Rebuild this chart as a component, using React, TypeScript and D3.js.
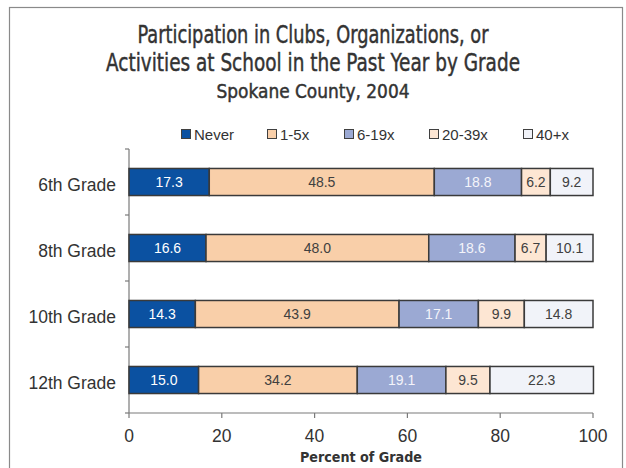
import React, { useRef, useEffect } from "react"
import * as d3 from "d3"

const grades = ["6th Grade", "8th Grade", "10th Grade", "12th Grade"]
const series = ["Never", "1-5x", "6-19x", "20-39x", "40+x"]
const never = [17.3, 16.6, 14.3, 15.0]
const oneToFive = [48.5, 48.0, 43.9, 34.2]
const sixToNineteen = [18.8, 18.6, 17.1, 19.1]
const twentyToThirtyNine = [6.2, 6.7, 9.9, 9.5]
const fortyPlus = [9.2, 10.1, 14.8, 22.3]
const xTicks = [0, 20, 40, 60, 80, 100]

const fills = ["#0b51a1", "#f9cfa9", "#9ba9d3", "#fde6d3", "#f1f3f9"]
const textFills = ["#ffffff", "#404040", "#f4f4fa", "#404040", "#404040"]

export default function App() {
  const svgRef = useRef(null)

  useEffect(() => {
    const svg = d3.select(svgRef.current)
    svg.selectAll("*").remove()

    const values = [never, oneToFive, sixToNineteen, twentyToThirtyNine, fortyPlus]
    const rows = grades.map((g, i) => {
      const r: any = { grade: g }
      series.forEach((s, j) => { r[s] = values[j][i] })
      return r
    })
    const stacked = d3.stack().keys(series)(rows)

    const x = d3.scaleLinear().domain([0, 100]).range([129, 593])
    const y = d3.scaleBand().domain(grades).range([149, 413]).paddingInner(0.59).paddingOuter(0.295)

    // frame
    svg.append("rect").attr("x", 9.5).attr("y", 7.5).attr("width", 613).attr("height", 480)
      .attr("fill", "white").attr("stroke", "#8a8a8a").attr("stroke-width", 1.2)

    const arial = "'Liberation Sans', Arial, sans-serif"
    const narrow = "'DejaVu Sans Condensed', 'Liberation Sans Narrow', 'Liberation Sans', sans-serif"
    const titleLines = [
      { t: "Participation in Clubs, Organizations, or", y: 43, s: 25, w: 351 },
      { t: "Activities at School in the Past Year by Grade", y: 71, s: 25, w: 414 },
      { t: "Spokane County, 2004", y: 98, s: 20, w: 193 },
    ]
    svg.selectAll(".title").data(titleLines).enter().append("text")
      .attr("x", 313).attr("y", d => d.y).attr("text-anchor", "middle")
      .attr("font-family", narrow).attr("font-size", d => d.s).attr("fill", "#333")
      .attr("stroke", "#333").attr("stroke-width", 0.45)
      .attr("textLength", d => d.w).attr("lengthAdjust", "spacingAndGlyphs")
      .text(d => d.t)

    // legend
    const legX = [181, 267, 344, 429, 523]
    const leg = svg.selectAll(".leg").data(series).enter().append("g")
      .attr("transform", (d, i) => `translate(${legX[i]},129)`)
    leg.append("rect").attr("x", 0.5).attr("y", 0.5).attr("width", 9).attr("height", 9)
      .attr("fill", (d, i) => fills[i]).attr("stroke", "#404040").attr("stroke-width", 1)
    leg.append("text").attr("x", 13).attr("y", 10.5)
      .attr("font-family", arial).attr("font-size", 15)
      .attr("fill", "#333").text(d => d)

    // axes
    const yAxis = svg.append("g")
    yAxis.append("line").attr("x1", 129).attr("x2", 129).attr("y1", 149).attr("y2", 413)
      .attr("stroke", "#7a7a7a").attr("stroke-width", 1.2)
    const bounds = d3.range(grades.length + 1).map(i => 149 + i * y.step())
    yAxis.selectAll(".yt").data(bounds).enter().append("line")
      .attr("x1", 125).attr("x2", 129).attr("y1", d => d).attr("y2", d => d)
      .attr("stroke", "#7a7a7a").attr("stroke-width", 1.2)
    yAxis.selectAll(".yl").data(grades).enter().append("text")
      .attr("x", 116).attr("y", d => y(d)! + y.bandwidth() / 2 + 8.5)
      .attr("text-anchor", "end").attr("font-family", arial)
      .attr("font-size", 17.5).attr("fill", "#333").text(d => d)

    const xAxis = svg.append("g")
    xAxis.append("line").attr("x1", 129).attr("x2", 593).attr("y1", 413).attr("y2", 413)
      .attr("stroke", "#7a7a7a").attr("stroke-width", 1.2)
    xAxis.selectAll(".xt").data(xTicks).enter().append("line")
      .attr("x1", d => x(d)).attr("x2", d => x(d)).attr("y1", 413).attr("y2", 418)
      .attr("stroke", "#7a7a7a").attr("stroke-width", 1.2)
    xAxis.selectAll(".xl").data(xTicks).enter().append("text")
      .attr("x", d => x(d)).attr("y", 442).attr("text-anchor", "middle")
      .attr("font-family", arial).attr("font-size", 17.5)
      .attr("fill", "#333").text(d => d)
    svg.append("text").attr("x", 361).attr("y", 461.5).attr("text-anchor", "middle")
      .attr("font-family", narrow).attr("font-size", 14).attr("font-weight", "bold")
      .attr("fill", "#333").attr("textLength", 122).attr("lengthAdjust", "spacingAndGlyphs")
      .text("Percent of Grade")

    // bars
    const layers = svg.selectAll(".layer").data(stacked).enter().append("g")
    layers.each(function (layer, li) {
      const g = d3.select(this)
      g.selectAll("rect").data(layer).enter().append("rect")
        .attr("x", d => x(d[0])).attr("width", d => x(d[1]) - x(d[0]))
        .attr("y", d => y(d.data.grade as string)!).attr("height", y.bandwidth())
        .attr("fill", fills[li]).attr("stroke", "#3a3a3a").attr("stroke-width", 1.5)
    })
    layers.each(function (layer, li) {
      d3.select(this).selectAll("text").data(layer).enter().append("text")
        .attr("x", d => (x(d[0]) + x(d[1])) / 2)
        .attr("y", d => y(d.data.grade as string)! + y.bandwidth() / 2 + 5.3)
        .attr("text-anchor", "middle").attr("font-family", arial)
        .attr("font-size", 14).attr("fill", textFills[li])
        .text(d => (d[1] - d[0]).toFixed(1))
    })
  }, [])

  return (
    <svg ref={svgRef} width={626} height={468}
      style={{ position: "absolute", left: 0, top: 0, display: "block" }} />
  )
}
